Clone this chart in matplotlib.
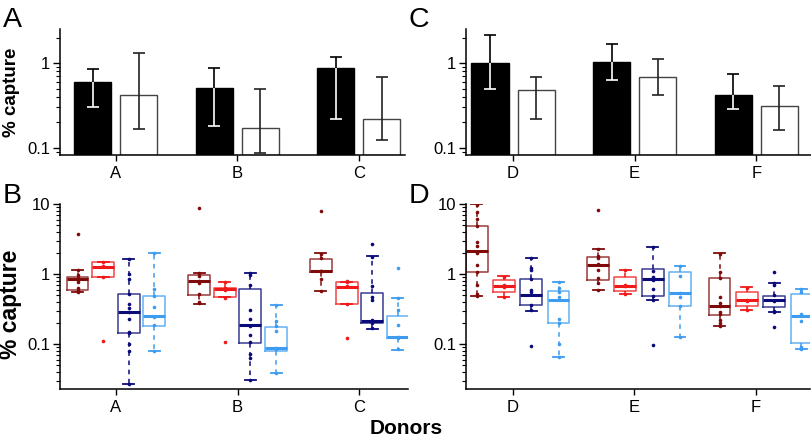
import numpy as np
import matplotlib
matplotlib.use('Agg')
import matplotlib.pyplot as plt
from matplotlib.ticker import LogLocator, FixedLocator, FuncFormatter, NullFormatter

plt.rcParams['font.family'] = ['Liberation Sans', 'DejaVu Sans']

# ---- data: top bar panels (A, C) ----
donors_left = ['A', 'B', 'C']
donors_right = ['D', 'E', 'F']

black_abc = [0.60, 0.51, 0.87]
black_abc_lo = [0.30, 0.18, 0.22]
black_abc_hi = [0.865, 0.87, 1.19]
white_abc = [0.42, 0.169, 0.22]
white_abc_lo = [0.166, 0.087, 0.124]
white_abc_hi = [1.32, 0.50, 0.69]

black_def = [1.0, 1.04, 0.42]
black_def_lo = [0.50, 0.64, 0.29]
black_def_hi = [2.18, 1.70, 0.75]
white_def = [0.485, 0.69, 0.31]
white_def_lo = [0.22, 0.42, 0.16]
white_def_hi = [0.69, 1.13, 0.545]

# ---- data: bottom box panels (B, D), 4 series per donor ----
box_med = {'A': [0.85, 1.25, 0.29, 0.254], 'B': [0.79, 0.61, 0.185, 0.087],
           'C': [1.10, 0.66, 0.213, 0.127], 'D': [2.13, 0.68, 0.50, 0.43],
           'E': [1.35, 0.68, 0.85, 0.54], 'F': [0.353, 0.42, 0.42, 0.25]}
box_q1 = {'A': [0.59, 0.90, 0.142, 0.18], 'B': [0.50, 0.47, 0.102, 0.080],
          'C': [1.07, 0.37, 0.197, 0.12], 'D': [1.08, 0.55, 0.36, 0.20],
          'E': [0.83, 0.58, 0.485, 0.353], 'F': [0.257, 0.345, 0.34, 0.103]}
box_q3 = {'A': [0.90, 1.47, 0.51, 0.49], 'B': [0.96, 0.64, 0.62, 0.177],
          'C': [1.66, 0.77, 0.53, 0.25], 'D': [4.85, 0.81, 0.85, 0.57],
          'E': [1.73, 0.90, 1.19, 1.06], 'F': [0.89, 0.55, 0.485, 0.51]}
box_lo = {'A': [0.55, 0.90, 0.0265, 0.079], 'B': [0.37, 0.47, 0.031, 0.039],
          'C': [0.57, 0.37, 0.166, 0.082], 'D': [0.485, 0.47, 0.30, 0.066],
          'E': [0.60, 0.52, 0.42, 0.127], 'F': [0.18, 0.31, 0.286, 0.085]}
box_hi = {'A': [1.14, 1.47, 1.62, 2.0], 'B': [1.04, 0.77, 1.02, 0.36],
          'C': [1.97, 0.78, 1.79, 0.46], 'D': [9.9, 0.93, 1.68, 0.77],
          'E': [2.27, 1.14, 2.4, 1.3], 'F': [1.97, 0.65, 0.74, 0.62]}

pts = {
    'A': [[3.7, 1.14, 0.97, 0.89, 0.85, 0.82, 0.76, 0.64, 0.57, 0.55],
          [1.5, 1.3, 0.9, 0.11],
          [1.62, 1.0, 0.86, 0.51, 0.37, 0.33, 0.29, 0.228, 0.15, 0.145, 0.10, 0.08, 0.0265],
          [2.0, 0.62, 0.49, 0.34, 0.245, 0.19, 0.079]],
    'B': [[8.9, 1.04, 0.94, 0.80, 0.74, 0.51, 0.40, 0.385],
          [0.76, 0.63, 0.60, 0.46, 0.107],
          [1.03, 0.97, 0.70, 0.31, 0.23, 0.18, 0.134, 0.107, 0.071, 0.063, 0.031],
          [0.357, 0.21, 0.18, 0.155, 0.087, 0.085, 0.039]],
    'C': [[8.0, 1.93, 1.67, 1.12, 1.10, 0.86, 0.58],
          [0.80, 0.76, 0.67, 0.37, 0.12],
          [2.66, 1.77, 0.68, 0.47, 0.43, 0.22, 0.20, 0.17],
          [1.22, 0.45, 0.31, 0.19, 0.127, 0.12, 0.084]],
    'D': [[9.7, 7.8, 6.2, 4.85, 2.9, 2.54, 1.97, 1.35, 1.06, 0.70, 0.52, 0.49],
          [0.92, 0.70, 0.66, 0.47],
          [1.71, 1.23, 1.15, 0.84, 0.59, 0.56, 0.36, 0.31, 0.095],
          [0.76, 0.64, 0.56, 0.47, 0.23, 0.20, 0.10, 0.066]],
    'E': [[8.3, 2.27, 1.83, 1.68, 1.37, 1.14, 0.89, 0.74, 0.59],
          [1.13, 0.70, 0.68, 0.52],
          [2.4, 1.10, 0.90, 0.82, 0.61, 0.49, 0.42, 0.097],
          [1.29, 0.94, 0.54, 0.47, 0.35, 0.125]],
    'F': [[1.93, 1.08, 0.87, 0.47, 0.39, 0.35, 0.29, 0.27, 0.22, 0.20, 0.18],
          [0.64, 0.43, 0.41, 0.31],
          [1.06, 0.74, 0.69, 0.50, 0.41, 0.30, 0.29, 0.177],
          [0.61, 0.56, 0.27, 0.21, 0.092, 0.085]],
}

colors = ['#7f0a0a', '#f01818', '#0a0a78', '#3d9cf0']

W, H = 812, 442
fig = plt.figure(figsize=(W / 100, H / 100), dpi=100)


def px_axes(l, t, r, b):
    return fig.add_axes([l / W, 1 - b / H, (r - l) / W, (b - t) / H])


def style(ax, ylo, yhi, majors, xlim, labels):
    ax.set_yscale('log')
    ax.set_ylim(ylo, yhi)
    ax.set_xlim(*xlim)
    for s in ['top', 'right']:
        ax.spines[s].set_visible(False)
    for s in ['left', 'bottom']:
        ax.spines[s].set_linewidth(1.1)
    ax.yaxis.set_major_locator(FixedLocator(majors))
    ax.yaxis.set_major_formatter(FuncFormatter(lambda v, p: '%g' % v))
    ax.yaxis.set_minor_locator(LogLocator(base=10, subs=np.arange(2, 10), numticks=20))
    ax.yaxis.set_minor_formatter(NullFormatter())
    ax.tick_params(axis='y', which='major', length=5, width=1, labelsize=12, pad=2)
    ax.tick_params(axis='y', which='minor', length=3, width=0.8)
    ax.set_xticks(range(len(labels)))
    ax.set_xticklabels(labels)
    ax.tick_params(axis='x', length=4, width=1, labelsize=12, pad=4)


def bars(ax, blk, blo, bhi, wht, wlo, whi, ylo):
    x = np.arange(len(blk))
    w = 0.305
    bb = ax.bar(x - 0.19, np.array(blk) - ylo, bottom=ylo, width=w, color='black',
                edgecolor='black', linewidth=1)
    ax.bar(x + 0.19, np.array(wht) - ylo, bottom=ylo, width=w, color='white',
           edgecolor='#444444', linewidth=1)
    ekw = dict(fmt='none', capsize=4.5, elinewidth=1.2, capthick=1.2)
    ax.errorbar(x - 0.19, blk, yerr=[np.array(blk) - blo, np.array(bhi) - blk],
                ecolor='black', **ekw)
    ax.errorbar(x + 0.19, wht, yerr=[np.array(wht) - wlo, np.array(whi) - wht],
                ecolor='#222222', **ekw)
    # inside the black bars the error bar shows in white
    for i, patch in enumerate(bb.patches):
        eb = ax.errorbar([x[i] - 0.19], [blk[i]],
                         yerr=[[blk[i] - blo[i]], [bhi[i] - blk[i]]],
                         ecolor='white', zorder=5, **ekw)
        for art in eb.lines[1] + eb.lines[2]:
            art.set_clip_path(patch)


def boxes(ax, donors, offsets):
    for j in range(4):
        c = colors[j]
        stats = []
        for d in donors:
            stats.append(dict(med=box_med[d][j], q1=box_q1[d][j], q3=box_q3[d][j],
                              whislo=box_lo[d][j], whishi=box_hi[d][j], fliers=[]))
        pos = np.arange(len(donors)) + offsets[j]
        ax.bxp(stats, positions=pos, widths=0.18, showfliers=False,
               boxprops=dict(color=c, linewidth=1.1, alpha=0.8),
               whiskerprops=dict(color=c, linewidth=1.1, linestyle=(0, (3, 3))),
               capprops=dict(color=c, linewidth=1.3),
               medianprops=dict(color=c, linewidth=2.2),
               manage_ticks=False)
        for k, d in enumerate(donors):
            ax.plot(np.full(len(pts[d][j]), pos[k]), pts[d][j], 'o', color=c,
                    markersize=2.6, markeredgewidth=0, zorder=4)


ylo_top, yhi_top = 0.082, 2.55

axA = px_axes(60, 29, 405, 155)
style(axA, ylo_top, yhi_top, [0.1, 1], (-0.46, 2.38), donors_left)
bars(axA, black_abc, black_abc_lo, black_abc_hi, white_abc, white_abc_lo, white_abc_hi, ylo_top)

axC = px_axes(466, 29, 811, 155)
style(axC, ylo_top, yhi_top, [0.1, 1], (-0.387, 2.45), donors_right)
bars(axC, black_def, black_def_lo, black_def_hi, white_def, white_def_lo, white_def_hi, ylo_top)

axB = px_axes(60, 204, 408, 389)
style(axB, 0.0228, 10, [0.1, 1, 10], (-0.46, 2.40), donors_left)
boxes(axB, donors_left, [-0.316, -0.105, 0.105, 0.316])

axD = px_axes(466, 204, 810, 389)
style(axD, 0.0228, 10, [0.1, 1, 10], (-0.387, 2.445), donors_right)
boxes(axD, donors_right, [-0.30, -0.075, 0.15, 0.375])

# labels
fig.text(11.5 / W, 1 - 92 / H, '% capture', rotation=90, ha='center', va='center',
         fontsize=13.5, fontweight='bold')
fig.text(11 / W, 1 - 304 / H, '% capture', rotation=90, ha='center', va='center',
         fontsize=16.5, fontweight='bold')
fig.text(406 / W, 1 - 428 / H, 'Donors', ha='center', va='center',
         fontsize=15, fontweight='bold')
for letter, x, y in [('A', 3, 27), ('C', 409, 27), ('B', 3, 203), ('D', 409, 203)]:
    fig.text(x / W, 1 - y / H, letter, ha='left', va='baseline', fontsize=20.5)

fig.savefig('out.png', dpi=100)
